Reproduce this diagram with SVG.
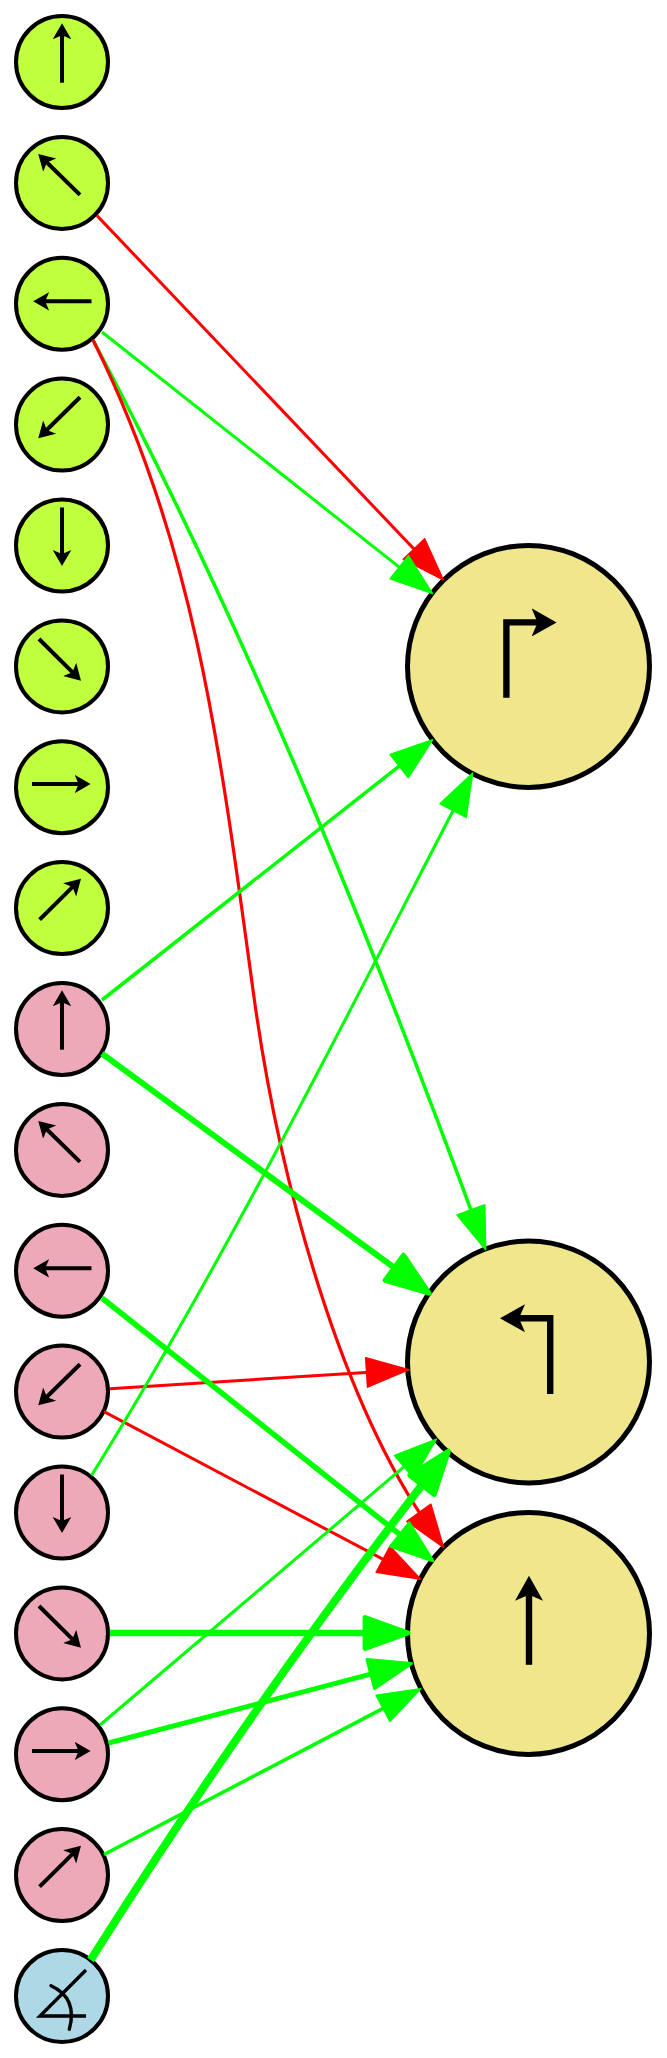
<svg xmlns="http://www.w3.org/2000/svg" width="667" height="2058" viewBox="0 0 667 2058">
<style>
.s{stroke:#000;stroke-width:4}
.S{stroke:#000;stroke-width:5}
.l{fill:#C0FF3E}.p{fill:#EEA9B8}.b{fill:#ADD8E6}.k{fill:#F0E68C}
.g{fill:none;stroke:#000;stroke-width:4;marker-end:url(#h)}
.G{fill:none;stroke:#000;stroke-width:6.4;marker-end:url(#H)}
.e{fill:none}
.r{stroke:#f00;marker-end:url(#mr)}
.n{stroke:#0f0;marker-end:url(#mg)}
.m{stroke:#0f0;marker-end:url(#mM)}
.t{stroke:#0f0;marker-end:url(#mG)}
</style>
<defs>
<marker id="h" markerUnits="userSpaceOnUse" markerWidth="30" markerHeight="24" refX="6" refY="12" orient="auto"><path d="M0,2.7 L16,12 L0,21.3 L4,12Z" fill="#000"/></marker>
<marker id="H" markerUnits="userSpaceOnUse" markerWidth="40" markerHeight="34" refX="9" refY="17" orient="auto"><path d="M0,3 L25,17 L0,31 L6,17Z" fill="#000"/></marker>
<marker id="mr" markerUnits="userSpaceOnUse" markerWidth="80" markerHeight="50" refX="50" refY="25" orient="auto"><path d="M26.75,10.25 L69.25,25 L26.75,39.75Z" fill="#f00" stroke="#f00" stroke-width="1.5" stroke-linejoin="round"/></marker>
<marker id="mg" markerUnits="userSpaceOnUse" markerWidth="80" markerHeight="50" refX="50" refY="25" orient="auto"><path d="M26.75,10.25 L69.25,25 L26.75,39.75Z" fill="#0f0" stroke="#0f0" stroke-width="1.5" stroke-linejoin="round"/></marker>
<marker id="mM" markerUnits="userSpaceOnUse" markerWidth="80" markerHeight="50" refX="50" refY="25" orient="auto"><path d="M26.5,10 L68.5,25 L26.5,40Z" fill="#0f0" stroke="#0f0" stroke-width="3" stroke-linejoin="round"/></marker>
<marker id="mG" markerUnits="userSpaceOnUse" markerWidth="80" markerHeight="50" refX="50" refY="25" orient="auto"><path d="M24.5,9.5 L67.5,25 L24.5,40.5Z" fill="#0f0" stroke="#0f0" stroke-width="5" stroke-linejoin="round"/></marker>
<g id="a0"><path class="g" d="M0,20.7 V-28.7"/></g>
<g id="a1"><path class="g" d="M18,12 L-16.6,-21.9"/></g>
<g id="a2"><path class="g" d="M29.5,-2.4 H-18.8"/></g>
<g id="a3"><path class="g" d="M18,-27.3 L-16.6,6.7"/></g>
<g id="a4"><path class="g" d="M0,-38 V10.5"/></g>
<g id="a5"><path class="g" d="M-23,-27.4 L11.9,7.3"/></g>
<g id="a6"><path class="g" d="M-30,-3.2 H18.6"/></g>
<g id="a7"><path class="g" d="M-22.4,11.6 L11.9,-22.4"/></g>
</defs>

<g id="node-lime-0" transform="translate(62,62)"><circle class="s l" r="46"/><use href="#a0"/></g>
<g id="node-lime-1" transform="translate(62,182.9)"><circle class="s l" r="46"/><use href="#a1"/></g>
<g id="node-lime-2" transform="translate(62,303.75)"><circle class="s l" r="46"/><use href="#a2"/></g>
<g id="node-lime-3" transform="translate(62,424.6)"><circle class="s l" r="46"/><use href="#a3"/></g>
<g id="node-lime-4" transform="translate(62,545.5)"><circle class="s l" r="46"/><use href="#a4"/></g>
<g id="node-lime-5" transform="translate(62,666.4)"><circle class="s l" r="46"/><use href="#a5"/></g>
<g id="node-lime-6" transform="translate(62,787.25)"><circle class="s l" r="46"/><use href="#a6"/></g>
<g id="node-lime-7" transform="translate(62,908.1)"><circle class="s l" r="46"/><use href="#a7"/></g>
<g id="node-pink-0" transform="translate(62,1029)"><circle class="s p" r="46"/><use href="#a0"/></g>
<g id="node-pink-1" transform="translate(62,1149.9)"><circle class="s p" r="46"/><use href="#a1"/></g>
<g id="node-pink-2" transform="translate(62,1270.75)"><circle class="s p" r="46"/><use href="#a2"/></g>
<g id="node-pink-3" transform="translate(62,1391.6)"><circle class="s p" r="46"/><use href="#a3"/></g>
<g id="node-pink-4" transform="translate(62,1512.5)"><circle class="s p" r="46"/><use href="#a4"/></g>
<g id="node-pink-5" transform="translate(62,1633.4)"><circle class="s p" r="46"/><use href="#a5"/></g>
<g id="node-pink-6" transform="translate(62,1754.25)"><circle class="s p" r="46"/><use href="#a6"/></g>
<g id="node-pink-7" transform="translate(62,1875.1)"><circle class="s p" r="46"/><use href="#a7"/></g>
<g id="node-angle" transform="translate(62,1996)"><circle class="s b" r="46"/>
<path d="M24,-26 L-22,20 H24" fill="none" stroke="#000" stroke-width="3.4"/>
<path d="M-11,-10.3 Q16,2 7.3,33.3" fill="none" stroke="#000" stroke-width="3.4" stroke-linecap="round"/></g>
<g id="node-right" transform="translate(528.5,666.4)"><circle class="S k" r="121"/><path class="G" d="M-22.1,31.4 V-44 H12.1"/></g>
<g id="node-left" transform="translate(528.5,1362)"><circle class="S k" r="121"/><path class="G" d="M21.7,32 V-43.7 H-12.5"/></g>
<g id="node-through" transform="translate(528.5,1633.4)"><circle class="S k" r="121"/><path class="G" d="M0.5,31.4 V-41.6"/></g>

<g id="connectors" class="e" stroke-width="3">
<path class="r" d="M97,215.6 L430,565.9"/>
<path class="n" d="M102,332 L417.5,581.6"/>
<path class="n" stroke-width="3.5" d="M93,340 C252,640 375,950 479,1231.6"/>
<path class="r" stroke-width="3.2" d="M93,340 C193,540 219,740 253,990 C280,1190 344,1408 432.4,1531.7"/>
<path class="r" d="M110,1388.8 L389.8,1370.9"/>
<path class="r" d="M104,1411.7 L403.6,1570.2"/>
<path class="n" stroke-width="3.5" d="M102,1000 L417.5,751.7"/>
<path class="n" d="M91.5,1475.5 C234,1245.5 353.4,1002 463.8,790"/>
<path class="n" d="M100,1725 L421.8,1451.6"/>
<path class="t" stroke-width="6" d="M102,1053.6 L414.9,1282.8"/>
<path class="m" stroke-width="5.5" d="M102,1298 L418.3,1549.2"/>
<path class="t" stroke-width="6.5" d="M109.8,1633 L390.6,1633"/>
<path class="m" stroke-width="5" d="M108.5,1743 L393.5,1668.1"/>
<path class="n" stroke-width="3.5" d="M104,1854.5 L403.6,1697.6"/>
<path class="t" stroke-width="8" d="M90.6,1960 Q258,1695 437.7,1464.8"/>
</g>
</svg>
